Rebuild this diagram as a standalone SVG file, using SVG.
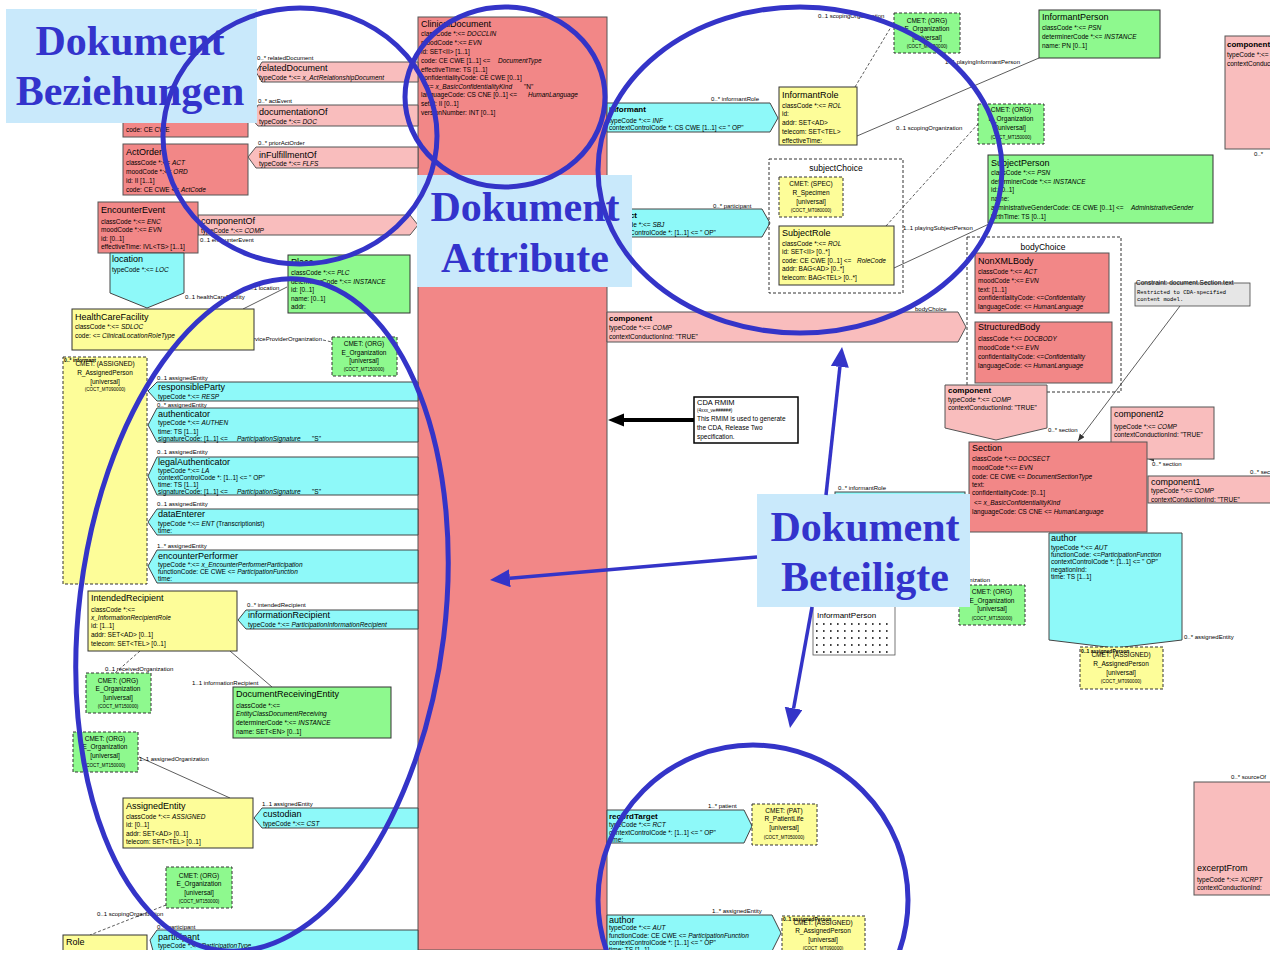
<svg xmlns="http://www.w3.org/2000/svg" width="1270" height="960" viewBox="0 0 1270 960">
<defs>
<style>
text{font-family:"Liberation Sans",Arial,sans-serif;fill:#000}
.a{font-size:6.5px}
.h{font-size:9px}
.hb{font-size:8px;font-weight:bold}
.l{font-size:6px}
.lb{font-size:6px;font-weight:bold}
.c{font-size:6.5px;text-anchor:middle}
.cs{font-size:4.6px;text-anchor:middle}
.i{font-style:italic}
.sal{fill:#F28787;stroke:#555;stroke-width:1}
.pnk{fill:#F9BDBD;stroke:#555;stroke-width:1}
.cy{fill:#8EF9F9;stroke:#444;stroke-width:1}
.ye{fill:#FDFD99;stroke:#333;stroke-width:1}
.gr{fill:#8EF98E;stroke:#333;stroke-width:1}
.cmet{stroke-dasharray:3 2}
.ch{fill:none;stroke:#333;stroke-width:1;stroke-dasharray:3 2}
.ln{fill:none;stroke:#333;stroke-width:0.8}
.dl{fill:none;stroke:#333;stroke-width:0.8;stroke-dasharray:3 2}
.note{fill:#C9E9FB}
.big{font-family:"Liberation Serif","Times New Roman",serif;font-weight:bold;font-size:42px;fill:#3333CC;text-anchor:middle}
.ring{fill:none;stroke:#3434C8;stroke-width:5}
.ba{fill:none;stroke:#3434C8;stroke-width:3.5}
.mono{font-family:"Liberation Mono","Courier New",monospace;font-size:5.5px}
</style>
<clipPath id="page"><rect x="0" y="0" width="1270" height="950"/></clipPath>
<marker id="blueHead" markerUnits="userSpaceOnUse" markerWidth="22" markerHeight="20" refX="0" refY="9" orient="auto"><path d="M0,0 L20,9 L0,18 z" fill="#3434C8"/></marker>
<marker id="blackHead" markerUnits="userSpaceOnUse" markerWidth="18" markerHeight="14" refX="0" refY="6.5" orient="auto"><path d="M0,0 L16,6.5 L0,13 z" fill="#000"/></marker>
<marker id="thinHead" markerUnits="userSpaceOnUse" markerWidth="8" markerHeight="8" refX="7" refY="3" orient="auto"><path d="M0,0 L7,3 L0,6 z" fill="#333"/></marker>
</defs>
<rect width="1270" height="960" fill="#fff"/>
<g clip-path="url(#page)">

<!-- relationship lines -->
<g id="connectors">
<line class="ln" x1="287" y1="287" x2="243" y2="309"/>
<line class="dl" x1="323" y1="340" x2="332" y2="342"/>
<line class="dl" x1="140" y1="651" x2="115" y2="673"/>
<line class="ln" x1="230" y1="651" x2="272" y2="687"/>
<line class="ln" x1="139" y1="757" x2="230" y2="798"/>
<line class="dl" x1="166" y1="905" x2="90" y2="935"/>
<line class="dl" x1="855" y1="87" x2="894" y2="22"/>
<line class="ln" x1="857" y1="136" x2="1039" y2="58"/>
<line class="dl" x1="886" y1="226" x2="978" y2="124"/>
<line class="ln" x1="894" y1="268" x2="989" y2="224"/>
<line class="ln" x1="1180" y1="306" x2="1078" y2="441" marker-end="url(#thinHead)"/>
<polygon points="1148,459 1154,456.5 1154,461.5" fill="#333"/>
<line x1="694" y1="420" x2="624" y2="420" stroke="#000" stroke-width="4" marker-end="url(#blackHead)"/>
</g>

<!-- document core -->
<g id="clinical-document">
<rect class="sal" x="418" y="17" width="189" height="933"/>
<text class="h" x="421" y="27">ClinicalDocument</text>
<text class="a" x="421" y="36">classCode *:&lt;= <tspan class="i">DOCCLIN</tspan></text>
<text class="a" x="421" y="45">moodCode *:&lt;= <tspan class="i">EVN</tspan></text>
<text class="a" x="421" y="54">id: SET&lt;II&gt; [1..1]</text>
<text class="a" x="421" y="63">code: CE CWE [1..1] &lt;= <tspan class="i" x="498">DocumentType</tspan></text>
<text class="a" x="421" y="72">effectiveTime: TS [1..1]</text>
<text class="a" x="421" y="80">confidentialityCode: CE CWE [0..1]</text>
<text class="a" x="426" y="89">&lt;= <tspan class="i">x_BasicConfidentialityKind</tspan><tspan x="524">"N"</tspan></text>
<text class="a" x="421" y="97">languageCode: CS CNE [0..1] &lt;= <tspan class="i" x="528">HumanLanguage</tspan></text>
<text class="a" x="421" y="106">setId: II [0..1]</text>
<text class="a" x="421" y="115">versionNumber: INT [0..1]</text>
</g>

<!-- left: relationships -->
<g id="parent-document">
<rect class="sal" x="123" y="60" width="125" height="77"/>
<text class="a" x="126" y="132">code: CE CWE</text>
</g>
<g id="related-document">
<polygon class="pnk" points="262,62 418,62 418,82 262,82 256,72"/>
<text class="l" x="257" y="60">0..* relatedDocument</text>
<text class="h" x="259" y="71">relatedDocument</text>
<text class="a" x="259" y="80">typeCode *:&lt;= <tspan class="i">x_ActRelationshipDocument</tspan></text>
</g>
<g id="documentation-of">
<polygon class="pnk" points="258,105 418,105 418,126 258,126 251,118"/>
<text class="l" x="258" y="103">0..* actEvent</text>
<text class="h" x="259" y="115">documentationOf</text>
<text class="a" x="259" y="124">typeCode *:&lt;= <tspan class="i">DOC</tspan></text>
</g>
<g id="in-fulfillment-of">
<polygon class="pnk" points="256,147 418,147 418,168 256,168 248,157"/>
<text class="l" x="258" y="145">0..* priorActOrder</text>
<text class="h" x="259" y="158">inFulfillmentOf</text>
<text class="a" x="259" y="166">typeCode *:&lt;= <tspan class="i">FLFS</tspan></text>
</g>
<g id="act-order">
<rect class="sal" x="123" y="144" width="125" height="51"/>
<text class="h" x="126" y="155">ActOrder</text>
<text class="a" x="126" y="165">classCode *:&lt;= <tspan class="i">ACT</tspan></text>
<text class="a" x="126" y="174">moodCode *:&lt;= <tspan class="i">ORD</tspan></text>
<text class="a" x="126" y="183">id: II [1..1]</text>
<text class="a" x="126" y="192">code: CE CWE &lt;= <tspan class="i">ActCode</tspan></text>
</g>
<g id="component-of">
<polygon class="pnk" points="198,215 410,215 418,225 410,235 198,235"/>
<text class="h" x="201" y="224">componentOf</text>
<text class="a" x="201" y="233">typeCode *:&lt;= <tspan class="i">COMP</tspan></text>
<text class="l" x="200" y="242">0..1 encounterEvent</text>
</g>
<g id="encounter-event">
<rect class="sal" x="98" y="202" width="100" height="51"/>
<text class="h" x="101" y="213">EncounterEvent</text>
<text class="a" x="101" y="224">classCode *:&lt;= <tspan class="i">ENC</tspan></text>
<text class="a" x="101" y="232">moodCode *:&lt;= <tspan class="i">EVN</tspan></text>
<text class="a" x="101" y="241">id: [0..1]</text>
<text class="a" x="101" y="249">effectiveTime: IVL&lt;TS&gt; [1..1]</text>
</g>
<g id="location">
<polygon class="cy" points="110,253 184,253 184,293 147,308 110,293"/>
<text class="h" x="112" y="262">location</text>
<text class="a" x="112" y="272">typeCode *:&lt;= <tspan class="i">LOC</tspan></text>
<text class="l" x="247" y="290">0..1 location</text>
<text class="l" x="185" y="299">0..1 healthCareFacility</text>
</g>
<g id="place">
<rect class="gr" x="288" y="255" width="122" height="58"/>
<text class="h" x="291" y="265">Place</text>
<text class="a" x="291" y="275">classCode *:&lt;= <tspan class="i">PLC</tspan></text>
<text class="a" x="291" y="284">determinerCode *:&lt;= <tspan class="i">INSTANCE</tspan></text>
<text class="a" x="291" y="292">id: [0..1]</text>
<text class="a" x="291" y="301">name: [0..1]</text>
<text class="a" x="291" y="309">addr:</text>
</g>
<g id="health-care-facility">
<text class="l" x="322" y="341" text-anchor="end">0..1 serviceProviderOrganization</text>
<rect class="ye" x="72" y="309" width="182" height="41"/>
<text class="h" x="75" y="320">HealthCareFacility</text>
<text class="a" x="75" y="329">classCode *:&lt;= <tspan class="i">SDLOC</tspan></text>
<text class="a" x="75" y="338">code: &lt;= <tspan class="i">ClinicalLocationRoleType</tspan></text>
</g>
<g id="org-facility">
<rect class="gr cmet" x="332" y="337" width="65" height="39"/>
<text class="c" x="364" y="346">CMET: (ORG)</text>
<text class="c" x="364" y="355">E_Organization</text>
<text class="c" x="364" y="363">[universal]</text>
<text class="cs" x="364" y="371">(COCT_MT150000)</text>
</g>

<!-- left: participants -->
<g id="assigned-person">
<rect class="ye cmet" x="63" y="357" width="84" height="227"/>
<text class="c" x="105" y="366">CMET: (ASSIGNED)</text>
<text class="c" x="105" y="375">R_AssignedPerson</text>
<text class="c" x="105" y="384">[universal]</text>
<text class="cs" x="105" y="391">(COCT_MT090000)</text>
<text class="lb" x="64" y="362" style="font-size:5px">0..* informant</text>
</g>
<g id="responsible-party">
<polygon class="cy" points="157,382 418,382 418,401 157,401 148,391"/>
<text class="l" x="157" y="380">0..1 assignedEntity</text>
<text class="h" x="158" y="390">responsibleParty</text>
<text class="a" x="158" y="399">typeCode *:&lt;= <tspan class="i">RESP</tspan></text>
</g>
<g id="authenticator">
<polygon class="cy" points="157,408 418,408 418,442 157,442 148,425"/>
<text class="l" x="157" y="407">0..* assignedEntity</text>
<text class="h" x="158" y="417">authenticator</text>
<text class="a" x="158" y="425">typeCode *:&lt;= <tspan class="i">AUTHEN</tspan></text>
<text class="a" x="158" y="434">time: TS [1..1]</text>
<text class="a" x="158" y="441">signatureCode: [1..1] &lt;= <tspan class="i" x="237">ParticipationSignature</tspan><tspan x="312">"S"</tspan></text>
</g>
<g id="legal-authenticator">
<polygon class="cy" points="157,457 418,457 418,495 157,495 148,476"/>
<text class="l" x="157" y="454">0..1 assignedEntity</text>
<text class="h" x="158" y="465">legalAuthenticator</text>
<text class="a" x="158" y="473">typeCode *:&lt;= <tspan class="i">LA</tspan></text>
<text class="a" x="158" y="480">contextControlCode *: [1..1] &lt;= " OP"</text>
<text class="a" x="158" y="487">time: TS [1..1]</text>
<text class="a" x="158" y="494">signatureCode: [1..1] &lt;= <tspan class="i" x="237">ParticipationSignature</tspan><tspan x="312">"S"</tspan></text>
</g>
<g id="data-enterer">
<polygon class="cy" points="157,509 418,509 418,535 157,535 148,522"/>
<text class="l" x="157" y="506">0..1 assignedEntity</text>
<text class="h" x="158" y="517">dataEnterer</text>
<text class="a" x="158" y="526">typeCode *:&lt;= <tspan class="i">ENT</tspan> (Transcriptionist)</text>
<text class="a" x="158" y="533">time:</text>
</g>
<g id="encounter-performer">
<polygon class="cy" points="157,550 418,550 418,583 157,583 148,566"/>
<text class="l" x="157" y="548">1..* assignedEntity</text>
<text class="h" x="158" y="559">encounterPerformer</text>
<text class="a" x="158" y="567">typeCode *:&lt;= <tspan class="i">x_EncounterPerformerParticipation</tspan></text>
<text class="a" x="158" y="574">functionCode: CE CWE &lt;= <tspan class="i">ParticipationFunction</tspan></text>
<text class="a" x="158" y="581">time:</text>
</g>
<g id="information-recipient">
<polygon class="cy" points="246,610 418,610 418,629 246,629 238,620"/>
<text class="l" x="247" y="607">0..* intendedRecipient</text>
<text class="h" x="248" y="618">informationRecipient</text>
<text class="a" x="248" y="627">typeCode *:&lt;= <tspan class="i">ParticipationInformationRecipient</tspan></text>
</g>
<g id="intended-recipient">
<rect class="ye" x="88" y="591" width="149" height="60"/>
<text class="h" x="91" y="601">IntendedRecipient</text>
<text class="a" x="91" y="612">classCode *:&lt;=</text>
<text class="a i" x="91" y="620">x_InformationRecipientRole</text>
<text class="a" x="91" y="628">id: [1..1]</text>
<text class="a" x="91" y="637">addr: SET&lt;AD&gt; [0..1]</text>
<text class="a" x="91" y="646">telecom: SET&lt;TEL&gt; [0..1]</text>
</g>
<g id="org-received">
<text class="l" x="105" y="671">0..1 receivedOrganization</text>
<rect class="gr cmet" x="86" y="673" width="65" height="40"/>
<text class="c" x="118" y="683">CMET: (ORG)</text>
<text class="c" x="118" y="691">E_Organization</text>
<text class="c" x="118" y="700">[universal]</text>
<text class="cs" x="118" y="708">(COCT_MT150000)</text>
</g>
<g id="document-receiving-entity">
<text class="l" x="192" y="685">1..1 informationRecipient</text>
<rect class="gr" x="233" y="687" width="158" height="51"/>
<text class="h" x="236" y="697">DocumentReceivingEntity</text>
<text class="a" x="236" y="708">classCode *:&lt;=</text>
<text class="a i" x="236" y="716">EntityClassDocumentReceiving</text>
<text class="a" x="236" y="725">determinerCode *:&lt;= <tspan class="i">INSTANCE</tspan></text>
<text class="a" x="236" y="734">name: SET&lt;EN&gt; [0..1]</text>
</g>
<g id="org-assigned">
<rect class="gr cmet" x="73" y="732" width="65" height="40"/>
<text class="c" x="105" y="741">CMET: (ORG)</text>
<text class="c" x="105" y="749">E_Organization</text>
<text class="c" x="105" y="758">[universal]</text>
<text class="cs" x="105" y="767">(COCT_MT150000)</text>
<text class="l" x="139" y="761">1..1 assignedOrganization</text>
</g>
<g id="assigned-entity">
<rect class="ye" x="123" y="798" width="130" height="50"/>
<text class="h" x="126" y="809">AssignedEntity</text>
<text class="a" x="126" y="819">classCode *:&lt;= <tspan class="i">ASSIGNED</tspan></text>
<text class="a" x="126" y="827">id: [0..1]</text>
<text class="a" x="126" y="836">addr: SET&lt;AD&gt; [0..1]</text>
<text class="a" x="126" y="844">telecom: SET&lt;TEL&gt; [0..1]</text>
</g>
<g id="custodian">
<polygon class="cy" points="262,808 418,808 418,828 262,828 254,818"/>
<text class="l" x="262" y="806">1..1 assignedEntity</text>
<text class="h" x="263" y="817">custodian</text>
<text class="a" x="263" y="826">typeCode *:&lt;= <tspan class="i">CST</tspan></text>
</g>
<g id="org-scoping">
<rect class="gr cmet" x="166" y="867" width="66" height="41"/>
<text class="c" x="199" y="878">CMET: (ORG)</text>
<text class="c" x="199" y="886">E_Organization</text>
<text class="c" x="199" y="895">[universal]</text>
<text class="cs" x="199" y="903">(COCT_MT150000)</text>
<text class="l" x="97" y="916">0..1 scopingOrganization</text>
</g>
<g id="role">
<rect class="ye" x="63" y="935" width="84" height="30"/>
<text class="h" x="66" y="945">Role</text>
</g>
<g id="participant">
<polygon class="cy" points="157,930 418,930 418,965 157,965 150,940"/>
<text class="l" x="157" y="929">0..* participant</text>
<text class="h" x="158" y="940">participant</text>
<text class="a" x="158" y="948">typeCode *:&lt;= <tspan class="i">ParticipationType</tspan></text>
</g>

<!-- right: informant and subject -->
<g id="informant">
<polygon class="cy" points="607,103 770,103 778,118 770,132 607,132"/>
<text class="l" x="711" y="101">0..* informantRole</text>
<text class="hb" x="609" y="112">informant</text>
<text class="a" x="609" y="123">typeCode *:&lt;= <tspan class="i">INF</tspan></text>
<text class="a" x="609" y="130">contextControlCode *: CS CWE [1..1] &lt;= " OP"</text>
</g>
<g id="informant-role">
<rect class="ye" x="779" y="87" width="78" height="58"/>
<text class="h" x="782" y="98">InformantRole</text>
<text class="a" x="782" y="108">classCode *:&lt;= <tspan class="i">ROL</tspan></text>
<text class="a" x="782" y="116">id:</text>
<text class="a" x="782" y="125">addr: SET&lt;AD&gt;</text>
<text class="a" x="782" y="134">telecom: SET&lt;TEL&gt;</text>
<text class="a" x="782" y="143">effectiveTime:</text>
</g>
<g id="org-informant">
<text class="l" x="818" y="18">0..1 scopingOrganization</text>
<rect class="gr cmet" x="894" y="13" width="66" height="40"/>
<text class="c" x="927" y="23">CMET: (ORG)</text>
<text class="c" x="927" y="31">E_Organization</text>
<text class="c" x="927" y="40">[universal]</text>
<text class="cs" x="927" y="48">(COCT_MT150000)</text>
</g>
<g id="informant-person">
<text class="l" x="945" y="64">1..1 playingInformantPerson</text>
<rect class="gr" x="1039" y="10" width="121" height="48"/>
<text class="h" x="1042" y="20">InformantPerson</text>
<text class="a" x="1042" y="30">classCode *:&lt;= <tspan class="i">PSN</tspan></text>
<text class="a" x="1042" y="39">determinerCode *:&lt;= <tspan class="i">INSTANCE</tspan></text>
<text class="a" x="1042" y="48">name: PN [0..1]</text>
</g>
<g id="org-subject">
<text class="l" x="896" y="130">0..1 scopingOrganization</text>
<rect class="gr cmet" x="978" y="104" width="66" height="40"/>
<text class="c" x="1011" y="112">CMET: (ORG)</text>
<text class="c" x="1011" y="121">E_Organization</text>
<text class="c" x="1011" y="130">[universal]</text>
<text class="cs" x="1011" y="139">(COCT_MT150000)</text>
</g>
<g id="subject">
<polygon class="cy" points="607,209 762,209 770,223 762,237 607,237"/>
<text class="l" x="713" y="208">0..* participant</text>
<text class="hb" x="609" y="218">subject</text>
<text class="a" x="609" y="227">typeCode *:&lt;= <tspan class="i">SBJ</tspan></text>
<text class="a" x="609" y="235">contextControlCode *: [1..1] &lt;= " OP"</text>
</g>
<g id="subject-choice">
<rect class="ch" x="769" y="159" width="134" height="134"/>
<text x="836" y="171" style="font-size:8.5px;text-anchor:middle">subjectChoice</text>
</g>
<g id="specimen">
<rect class="ye cmet" x="779" y="177" width="64" height="40"/>
<text class="c" x="811" y="186">CMET: (SPEC)</text>
<text class="c" x="811" y="195">R_Specimen</text>
<text class="c" x="811" y="204">[universal]</text>
<text class="cs" x="811" y="212">(COCT_MT080000)</text>
</g>
<g id="subject-role">
<rect class="ye" x="779" y="226" width="115" height="59"/>
<text class="h" x="782" y="236">SubjectRole</text>
<text class="a" x="782" y="246">classCode *:&lt;= <tspan class="i">ROL</tspan></text>
<text class="a" x="782" y="254">id: SET&lt;II&gt; [0..*]</text>
<text class="a" x="782" y="263">code: CE CWE [0..1] &lt;= <tspan class="i" x="857">RoleCode</tspan></text>
<text class="a" x="782" y="271">addr: BAG&lt;AD&gt; [0..*]</text>
<text class="a" x="782" y="280">telecom: BAG&lt;TEL&gt; [0..*]</text>
</g>
<g id="subject-person">
<text class="l" x="903" y="230">1..1 playingSubjectPerson</text>
<rect class="gr" x="988" y="155" width="225" height="68"/>
<text class="h" x="991" y="166">SubjectPerson</text>
<text class="a" x="991" y="175">classCode *:&lt;= <tspan class="i">PSN</tspan></text>
<text class="a" x="991" y="184">determinerCode *:&lt;= <tspan class="i">INSTANCE</tspan></text>
<text class="a" x="991" y="192">id: [0..1]</text>
<text class="a" x="991" y="201">name:</text>
<text class="a" x="991" y="210">administrativeGenderCode: CE CWE [0..1] &lt;= <tspan class="i" x="1131">AdministrativeGender</tspan></text>
<text class="a" x="991" y="219">birthTime: TS [0..1]</text>
</g>

<!-- right: body and sections -->
<g id="component-body">
<polygon class="pnk" points="607,312 958,312 966,327 958,342 607,342"/>
<text class="l" x="915" y="311">bodyChoice</text>
<text class="hb" x="609" y="321">component</text>
<text class="a" x="609" y="330">typeCode *:&lt;= <tspan class="i">COMP</tspan></text>
<text class="a" x="609" y="339">contextConductionInd: "TRUE"</text>
</g>
<g id="body-choice">
<rect class="ch" x="967" y="237" width="154" height="155"/>
<text x="1043" y="250" style="font-size:8.5px;text-anchor:middle">bodyChoice</text>
</g>
<g id="non-xml-body">
<rect class="sal" x="975" y="253" width="134" height="60"/>
<text class="h" x="978" y="264">NonXMLBody</text>
<text class="a" x="978" y="274">classCode *:&lt;= <tspan class="i">ACT</tspan></text>
<text class="a" x="978" y="283">moodCode *:&lt;= <tspan class="i">EVN</tspan></text>
<text class="a" x="978" y="292">text: [1..1]</text>
<text class="a" x="978" y="300">confidentialityCode: &lt;=<tspan class="i">Confidentiality</tspan></text>
<text class="a" x="978" y="309">languageCode: &lt;= <tspan class="i">HumanLanguage</tspan></text>
</g>
<g id="structured-body">
<rect class="sal" x="975" y="322" width="137" height="61"/>
<text class="h" x="978" y="330">StructuredBody</text>
<text class="a" x="978" y="341">classCode *:&lt;= <tspan class="i">DOCBODY</tspan></text>
<text class="a" x="978" y="350">moodCode *:&lt;= <tspan class="i">EVN</tspan></text>
<text class="a" x="978" y="359">confidentialityCode: &lt;=<tspan class="i">Confidentiality</tspan></text>
<text class="a" x="978" y="368">languageCode: &lt;= <tspan class="i">HumanLanguage</tspan></text>
</g>
<g id="section-constraint">
<rect x="1135" y="283" width="115" height="23" fill="#E6E6E6" stroke="#444" stroke-width="0.8"/>
<text class="a" x="1136" y="285">Constraint: document.Section.text</text>
<text class="mono" x="1137" y="294">Restricted to CDA-specified</text>
<text class="mono" x="1137" y="301">content model.</text>
</g>
<g id="component-section">
<polygon class="pnk" points="945,385 1047,385 1047,428 996,440 945,428"/>
<text class="hb" x="948" y="393">component</text>
<text class="a" x="948" y="402">typeCode *:&lt;= <tspan class="i">COMP</tspan></text>
<text class="a" x="948" y="410">contextConductionInd: "TRUE"</text>
<text class="l" x="1048" y="432">0..* section</text>
</g>
<g id="component2">
<rect class="pnk" x="1111" y="407" width="103" height="52"/>
<text class="h" x="1114" y="417">component2</text>
<text class="a" x="1114" y="429">typeCode *:&lt;= <tspan class="i">COMP</tspan></text>
<text class="a" x="1114" y="437">contextConductionInd: "TRUE"</text>
<text class="l" x="1152" y="466">0..* section</text>
</g>
<g id="component1">
<rect class="pnk" x="1148" y="476" width="130" height="27"/>
<text class="h" x="1151" y="485">component1</text>
<text class="a" x="1151" y="493">typeCode *:&lt;= <tspan class="i">COMP</tspan></text>
<text class="a" x="1151" y="502">contextConductionInd: "TRUE"</text>
<text class="l" x="1250" y="474">0..* section</text>
</g>
<g id="component-top">
<rect class="pnk" x="1225" y="36" width="60" height="113"/>
<text class="hb" x="1227" y="47">component</text>
<text class="a" x="1227" y="57">typeCode *:&lt;= <tspan class="i">COMP</tspan></text>
<text class="a" x="1227" y="66">contextConductionInd</text>
<text class="l" x="1254" y="156">0..*</text>
</g>
<g id="section">
<rect class="sal" x="969" y="442" width="178" height="90"/>
<text class="h" x="972" y="451">Section</text>
<text class="a" x="972" y="461">classCode *:&lt;= <tspan class="i">DOCSECT</tspan></text>
<text class="a" x="972" y="470">moodCode *:&lt;= <tspan class="i">EVN</tspan></text>
<text class="a" x="972" y="479">code: CE CWE &lt;= <tspan class="i">DocumentSectionType</tspan></text>
<text class="a" x="972" y="487">text:</text>
<text class="a" x="972" y="495">confidentialityCode: [0..1]</text>
<text class="a" x="974" y="505">&lt;= <tspan class="i">x_BasicConfidentialityKind</tspan></text>
<text class="a" x="972" y="514">languageCode: CS CNE &lt;= <tspan class="i">HumanLanguage</tspan></text>
</g>
<g id="section-author">
<polygon class="cy" points="1049,533 1182,533 1182,640 1115,648 1049,640"/>
<text class="h" x="1051" y="541">author</text>
<text class="a" x="1051" y="550">typeCode *:&lt;= <tspan class="i">AUT</tspan></text>
<text class="a" x="1051" y="557">functionCode: &lt;=<tspan class="i">ParticipationFunction</tspan></text>
<text class="a" x="1051" y="564">contextControlCode *: [1..1] &lt;= " OP"</text>
<text class="a" x="1051" y="572">negationInd:</text>
<text class="a" x="1051" y="579">time: TS [1..1]</text>
<text class="l" x="1184" y="639">0..* assignedEntity</text>
</g>
<g id="org-section">
<text class="l" x="990" y="582" text-anchor="end">0..1 representedOrganization</text>
<rect class="gr cmet" x="959" y="585" width="66" height="40"/>
<text class="c" x="992" y="594">CMET: (ORG)</text>
<text class="c" x="992" y="603">E_Organization</text>
<text class="c" x="992" y="611">[universal]</text>
<text class="cs" x="992" y="620">(COCT_MT150000)</text>
</g>
<g id="assigned-person-section">
<rect class="ye cmet" x="1080" y="647" width="83" height="42"/>
<text class="c" x="1121" y="657">CMET: (ASSIGNED)</text>
<text class="c" x="1121" y="666">R_AssignedPerson</text>
<text class="c" x="1121" y="675">[universal]</text>
<text class="cs" x="1121" y="683">(COCT_MT090000)</text>
<text class="lb" x="1081" y="653" style="font-size:5px">0..1 assignedPerson</text>
</g>
<g id="informant-role-hidden">
<rect class="cy" x="835" y="492" width="130" height="40"/>
<text class="l" x="838" y="490">0..* informantRole</text>
</g>
<g id="informant-person-section">
<rect x="813" y="600" width="82" height="55" fill="#fff" stroke="#555" stroke-width="0.8"/>
<text x="817" y="618" style="font-size:8px">InformantPerson</text>
<g stroke="#000" stroke-width="1.6" stroke-dasharray="1.6 5.4">
<line x1="816" y1="624" x2="893" y2="624"/>
<line x1="816" y1="631" x2="893" y2="631"/>
<line x1="816" y1="638" x2="893" y2="638"/>
<line x1="816" y1="645" x2="893" y2="645"/>
<line x1="816" y1="652" x2="893" y2="652"/>
</g>
</g>
<g id="cda-rmim-note">
<rect x="694" y="397" width="104" height="46" fill="#fff" stroke="#000" stroke-width="1.5"/>
<text x="697" y="405" style="font-size:7.5px">CDA RMIM</text>
<text x="697" y="412" style="font-size:4.6px">(4xxx_ve######)</text>
<text class="a" x="697" y="421">This RMIM is used to generate</text>
<text class="a" x="697" y="430">the CDA, Release Two</text>
<text class="a" x="697" y="439">specification.</text>
</g>

<!-- right: bottom participations -->
<g id="record-target">
<polygon class="cy" points="607,810 744,810 752,826 744,843 607,843"/>
<text class="l" x="708" y="808">1..* patient</text>
<text class="hb" x="609" y="819">recordTarget</text>
<text class="a" x="609" y="827">typeCode *:&lt;= <tspan class="i">RCT</tspan></text>
<text class="a" x="609" y="835">contextControlCode *: [1..1] &lt;= " OP"</text>
<text class="a" x="609" y="842">time:</text>
</g>
<g id="patient">
<rect class="ye cmet" x="752" y="804" width="65" height="41"/>
<text class="c" x="784" y="813">CMET: (PAT)</text>
<text class="c" x="784" y="821">R_PatientLife</text>
<text class="c" x="784" y="830">[universal]</text>
<text class="cs" x="784" y="839">(COCT_MT050000)</text>
</g>
<g id="author">
<polygon class="cy" points="607,915 772,915 781,933 772,951 607,951"/>
<text class="l" x="712" y="913">1..* assignedEntity</text>
<text class="h" x="609" y="923">author</text>
<text class="a" x="609" y="930">typeCode *:&lt;= <tspan class="i">AUT</tspan></text>
<text class="a" x="609" y="938">functionCode: CE CWE &lt;= <tspan class="i">ParticipationFunction</tspan></text>
<text class="a" x="609" y="945">contextControlCode *: [1..1] &lt;= " OP"</text>
<text class="a" x="609" y="952">time: TS [1..1]</text>
</g>
<g id="assigned-person-author">
<rect class="ye cmet" x="782" y="916" width="83" height="42"/>
<text class="c" x="823" y="925">CMET: (ASSIGNED)</text>
<text class="c" x="823" y="933">R_AssignedPerson</text>
<text class="c" x="823" y="942">[universal]</text>
<text class="cs" x="823" y="950">(COCT_MT090000)</text>
<text class="lb" x="783" y="921" style="font-size:5px">0..1 assignedPerson</text>
</g>
<g id="excerpt-from">
<rect class="pnk" x="1194" y="782" width="90" height="113"/>
<text class="h" x="1197" y="871">excerptFrom</text>
<text class="a" x="1197" y="882">typeCode *:&lt;= <tspan class="i">XCRPT</tspan></text>
<text class="a" x="1197" y="890">contextConductionInd:</text>
<text class="l" x="1231" y="779">0..* sourceOf</text>
</g>

<!-- overlay captions -->
<g id="caption-relationships">
<rect class="note" x="6" y="9" width="251" height="114"/>
<text class="big" x="130" y="55">Dokument</text>
<text class="big" x="130" y="105">Beziehungen</text>
</g>
<g id="caption-attributes">
<rect class="note" x="417" y="175" width="215" height="112"/>
<text class="big" x="525" y="221">Dokument</text>
<text class="big" x="525" y="272">Attribute</text>
</g>
<g id="caption-participants">
<rect class="note" x="757" y="494" width="213" height="113"/>
<text class="big" x="865" y="541">Dokument</text>
<text class="big" x="865" y="591">Beteiligte</text>
</g>

<!-- highlight rings -->
<g id="rings">
<ellipse class="ring" cx="300" cy="136" rx="137" ry="128"/>
<ellipse class="ring" cx="505" cy="97" rx="100" ry="90"/>
<ellipse class="ring" cx="800" cy="170" rx="202" ry="163"/>
<ellipse class="ring" cx="262" cy="615" rx="183" ry="338" transform="rotate(7 262 615)"/>
<ellipse class="ring" cx="753" cy="900" rx="155" ry="155"/>
</g>
<g id="caption-arrows">
<line class="ba" x1="826" y1="495" x2="839.9" y2="366.9" marker-end="url(#blueHead)"/>
<line class="ba" x1="757" y1="557" x2="509.9" y2="578.3" marker-end="url(#blueHead)"/>
<line class="ba" x1="812" y1="607" x2="793.6" y2="708.3" marker-end="url(#blueHead)"/>
</g>
</g>
</svg>
